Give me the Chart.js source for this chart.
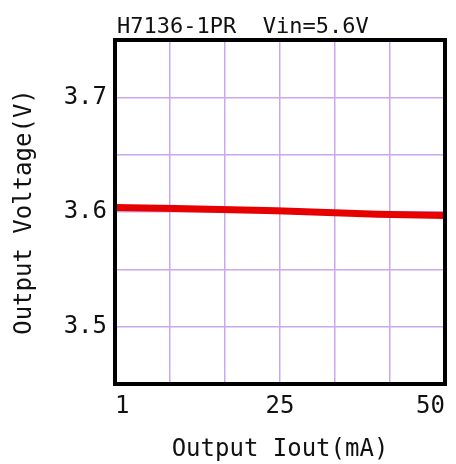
<!DOCTYPE html>
<html>
<head>
<meta charset="utf-8">
<script src="https://cdn.jsdelivr.net/npm/chart.js@4/dist/chart.umd.min.js"></script>
<style>
  html, body { margin: 0; padding: 0; background: #fff; }
  #wrap { width: 456px; height: 464px; }
</style>
</head>
<body>
<div id="wrap"><canvas id="c"></canvas></div>
<script>
const chartTitle = 'H7136-1PR  Vin=5.6V';
const xTitle = 'Output Iout(mA)';
const yTitle = 'Output Voltage(V)';

// output current (mA) and output voltage (V)
const iout = [1, 10, 25, 40, 50];
const vout = [3.604, 3.603, 3.601, 3.598, 3.597];

const xMin = 1, xMax = 50, xDivisions = 6;
const xTickLabels = ['1', '', '', '25', '', '', '50'];
const yMin = 3.45, yMax = 3.75, yStep = 0.05;
const yTickLabels = ['3.5', '3.6', '3.7'];

const monoFont = '"DejaVu Sans Mono", "Liberation Mono", monospace';
const gridColor = '#caa8ee';
const textColor = '#111';

const frameAndTitle = {
  id: 'frameAndTitle',
  afterDraw(chart) {
    const { ctx, chartArea: a } = chart;
    ctx.save();
    ctx.strokeStyle = '#000';
    ctx.lineWidth = 4;
    ctx.strokeRect(a.left, a.top, a.right - a.left, a.bottom - a.top);
    ctx.fillStyle = textColor;
    ctx.font = '22px ' + monoFont;
    ctx.textAlign = 'left';
    ctx.textBaseline = 'alphabetic';
    ctx.fillText(chartTitle, a.left + 2, 33);
    ctx.restore();
  }
};

new Chart(document.getElementById('c'), {
  type: 'line',
  data: {
    datasets: [{
      data: iout.map((x, i) => ({ x: x, y: vout[i] })),
      borderColor: '#e60000',
      borderWidth: 7,
      pointRadius: 0,
      tension: 0,
      fill: false
    }]
  },
  options: {
    responsive: true,
    maintainAspectRatio: false,
    animation: false,
    layout: { padding: { top: 40, right: 11, left: 0, bottom: 0 } },
    plugins: {
      legend: { display: false },
      tooltip: { enabled: false }
    },
    scales: {
      x: {
        type: 'linear',
        min: xMin,
        max: xMax,
        afterBuildTicks(scale) {
          const t = [];
          for (let k = 0; k <= xDivisions; k++) {
            t.push({ value: xMin + (xMax - xMin) * k / xDivisions });
          }
          scale.ticks = t;
        },
        afterFit(scale) { scale.height = 80; },
        border: { display: false },
        grid: { color: gridColor, lineWidth: 1.5, drawTicks: false },
        ticks: {
          align: 'inner',
          padding: 8,
          color: textColor,
          font: { family: monoFont, size: 24 },
          maxRotation: 0,
          autoSkip: false,
          callback: (v, i) => xTickLabels[i]
        },
        title: {
          display: true,
          text: xTitle,
          color: textColor,
          font: { family: monoFont, size: 24 },
          padding: { top: 3, bottom: 0 }
        }
      },
      y: {
        min: yMin,
        max: yMax,
        afterFit(scale) { scale.width = 115; },
        border: { display: false },
        grid: { color: gridColor, lineWidth: 1.5, drawTicks: false },
        ticks: {
          stepSize: yStep,
          padding: 8,
          color: textColor,
          font: { family: monoFont, size: 24 },
          callback: (v) => {
            const s = v.toFixed(1);
            return Math.abs(v - parseFloat(s)) < 1e-6 && yTickLabels.includes(s) ? s : '';
          }
        },
        title: {
          display: true,
          text: yTitle,
          color: textColor,
          font: { family: monoFont, size: 24 },
          padding: { top: 10, bottom: 0 }
        }
      }
    }
  },
  plugins: [frameAndTitle]
});
</script>
</body>
</html>
